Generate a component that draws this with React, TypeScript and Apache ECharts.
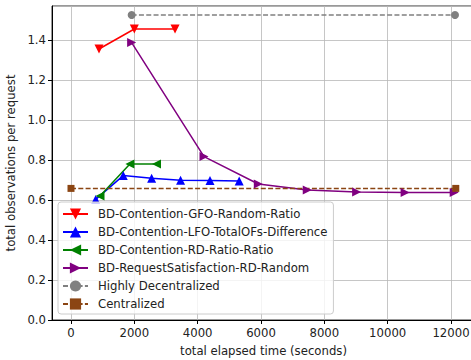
import React, { useEffect, useRef } from "react";
import * as echarts from "echarts";

const gfoX = [884, 2000, 3285];
const gfoY = [1.355, 1.455, 1.455];
const lfoX = [780, 1650, 2545, 3460, 4390, 5310];
const lfoY = [0.603, 0.722, 0.709, 0.699, 0.697, 0.695];
const rdX = [915, 1860, 2700];
const rdY = [0.62, 0.78, 0.78];
const rsX = [1915, 4200, 5915, 7460, 9020, 10550, 12100];
const rsY = [1.387, 0.817, 0.68, 0.65, 0.64, 0.638, 0.637];
const hdX = [1915, 12125];
const hdY = [1.525, 1.525];
const cenX = [0, 12150];
const cenY = [0.658, 0.658];

const names = [
  "BD-Contention-GFO-Random-Ratio",
  "BD-Contention-LFO-TotalOFs-Difference",
  "BD-Contention-RD-Ratio-Ratio",
  "BD-RequestSatisfaction-RD-Random",
  "Highly Decentralized",
  "Centralized",
];

const zip = (xs: number[], ys: number[]) => xs.map((x, i) => [x, ys[i]]);

export default function App() {
  const ref = useRef<HTMLDivElement>(null);
  useEffect(() => {
    if (!ref.current) return;
    const chart = echarts.init(ref.current, null, { renderer: "svg" });
    const font = "DejaVu Sans";
    const fs = 11.7;
    const mk = (
      name: string,
      data: number[][],
      color: string,
      symbol: string,
      rotate: number,
      dashed: boolean
    ) => ({
      name,
      type: "line",
      data,
      symbol,
      symbolSize: symbol === "circle" ? 8 : symbol === "rect" ? 7 : 9,
      symbolRotate: rotate,
      showAllSymbol: true,
      itemStyle: { color },
      lineStyle: { color, width: 1.5, type: dashed ? [5, 2.3] : "solid" },
      z: 3,
    });
    chart.setOption({
      animation: false,
      textStyle: { fontFamily: font },
      grid: {
        left: 52,
        top: 6,
        width: 423,
        height: 314,
        show: true,
        borderColor: "#333",
        borderWidth: 1,
        outerBoundsMode: "none",
        containLabel: false,
      },
      xAxis: {
        type: "value",
        min: -600,
        max: 12757,
        minInterval: 2000,
        maxInterval: 2000,
        name: "total elapsed time (seconds)",
        nameLocation: "middle",
        nameGap: 25,
        nameTextStyle: { fontSize: fs, color: "#222", fontFamily: font },
        axisLine: { show: true, onZero: false, lineStyle: { color: "#000" } },
        axisTick: { show: true, length: 4, lineStyle: { color: "#000" } },
        axisLabel: {
          fontSize: fs,
          color: "#222",
          fontFamily: font,
          margin: 7,
          showMinLabel: false,
          showMaxLabel: false,
          formatter: (v: number) => String(Math.round(v)),
        },
        splitLine: { show: true, lineStyle: { color: "#b8b8b8", width: 0.8 } },
      },
      yAxis: {
        type: "value",
        min: 0,
        max: 1.57,
        interval: 0.2,
        name: "total observations per request",
        nameLocation: "middle",
        nameGap: 29,
        nameTextStyle: { fontSize: fs, color: "#222", fontFamily: font },
        axisLine: { show: true, onZero: false, lineStyle: { color: "#000" } },
        axisTick: { show: true, length: 4, lineStyle: { color: "#000" } },
        axisLabel: {
          fontSize: fs,
          color: "#222",
          fontFamily: font,
          margin: 6,
          showMaxLabel: false,
          formatter: (v: number) => v.toFixed(1),
        },
        splitLine: { show: true, lineStyle: { color: "#b8b8b8", width: 0.8 } },
      },
      legend: {
        orient: "vertical",
        left: 58,
        top: 202,
        itemWidth: 25,
        itemHeight: 14,
        itemGap: 4,
        padding: [5, 6, 3, 4],
        backgroundColor: "rgba(255,255,255,0.8)",
        borderColor: "#ccc",
        borderWidth: 1,
        borderRadius: 3,
        data: names,
        textStyle: { fontSize: fs, color: "#222", fontFamily: font, lineHeight: 14, padding: [0, 0, 0, 5] },
      },
      series: [
        mk(names[0], zip(gfoX, gfoY), "#ff0000", "triangle", 180, false),
        mk(names[1], zip(lfoX, lfoY), "#0000ff", "triangle", 0, false),
        mk(names[2], zip(rdX, rdY), "#008000", "triangle", 90, false),
        mk(names[3], zip(rsX, rsY), "#800080", "triangle", -90, false),
        mk(names[4], zip(hdX, hdY), "#808080", "circle", 0, true),
        mk(names[5], zip(cenX, cenY), "#8b4513", "rect", 0, true),
      ],
    });
    return () => chart.dispose();
  }, []);
  return (
    <div
      ref={ref}
      style={{ position: "absolute", left: 0, top: 0, width: 471, height: 360, background: "#fff" }}
    />
  );
}
